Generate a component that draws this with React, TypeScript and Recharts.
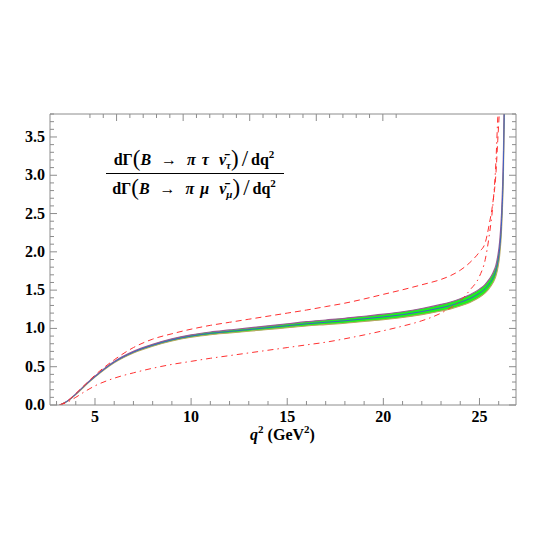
import React from 'react'
import { ComposedChart, Line, Area, XAxis, YAxis } from 'recharts'

// q^2 grid (GeV^2) and curve values
const q2 = [3.16, 3.5, 4, 4.5, 5, 6, 7, 8, 9, 10, 11, 12, 13, 14, 15, 16, 17, 18, 19, 20, 21, 22, 23, 23.5, 24, 24.5, 25, 25.3, 25.5, 25.7, 25.85, 25.95, 26.05, 26.15, 26.25, 26.32]
const central = [0, 0.04, 0.14, 0.26, 0.37, 0.56, 0.69, 0.78, 0.85, 0.9, 0.935, 0.96, 0.985, 1.01, 1.035, 1.06, 1.08, 1.1, 1.125, 1.15, 1.18, 1.22, 1.27, 1.3, 1.34, 1.39, 1.46, 1.52, 1.58, 1.66, 1.75, 1.86, 2.04, 2.4, 3.2, 4.4]
const bandHigh = [0, 0.042, 0.144, 0.265, 0.376, 0.568, 0.7, 0.792, 0.864, 0.916, 0.953, 0.98, 1.007, 1.034, 1.061, 1.088, 1.11, 1.132, 1.159, 1.186, 1.218, 1.26, 1.313, 1.345, 1.387, 1.44, 1.513, 1.576, 1.64, 1.725, 1.82, 1.94, 2.13, 2.51, 3.34, 4.58]
const bandLow = [0, 0.038, 0.136, 0.255, 0.364, 0.552, 0.68, 0.768, 0.836, 0.884, 0.917, 0.94, 0.963, 0.986, 1.009, 1.032, 1.05, 1.068, 1.091, 1.114, 1.142, 1.18, 1.227, 1.255, 1.293, 1.34, 1.407, 1.464, 1.52, 1.595, 1.68, 1.78, 1.95, 2.29, 3.06, 4.22]
const dashed = [0, 0.04, 0.15, 0.27, 0.39, 0.59, 0.75, 0.86, 0.93, 0.99, 1.04, 1.08, 1.12, 1.16, 1.2, 1.24, 1.285, 1.33, 1.385, 1.445, 1.505, 1.57, 1.64, 1.69, 1.76, 1.86, 2.0, 2.12, 2.35, 2.65, 3.0, 3.45, 3.9, null, null, null]
const dashDot = [0, 0.03, 0.1, 0.18, 0.25, 0.35, 0.42, 0.48, 0.53, 0.57, 0.61, 0.645, 0.68, 0.715, 0.75, 0.785, 0.82, 0.865, 0.915, 0.97, 1.03, 1.1, 1.2, 1.27, 1.36, 1.5, 1.68, 1.9, 2.2, 2.62, 3.15, 3.75, 4.3, null, null, null]

const xMajor = [5, 10, 15, 20, 25]
const xTicks = [3, 4, 5, 6, 7, 8, 9, 10, 11, 12, 13, 14, 15, 16, 17, 18, 19, 20, 21, 22, 23, 24, 25, 26]
const yTicks = [0, 0.1, 0.2, 0.3, 0.4, 0.5, 0.6, 0.7, 0.8, 0.9, 1, 1.1, 1.2, 1.3, 1.4, 1.5, 1.6, 1.7, 1.8, 1.9, 2, 2.1, 2.2, 2.3, 2.4, 2.5, 2.6, 2.7, 2.8, 2.9, 3, 3.1, 3.2, 3.3, 3.4, 3.5, 3.6, 3.7, 3.8]

const data = q2.map((q, i) => ({
  q,
  band: [bandLow[i], bandHigh[i]],
  low: bandLow[i],
  high: bandHigh[i],
  central: central[i],
  dashed: dashed[i],
  dashDot: dashDot[i],
}))

const FRAME = '#8c8c8c'
const FONT = '"Liberation Serif", "Times New Roman", serif'
const X_DOMAIN = [2.66, 26.9]
const Y_DOMAIN = [0, 3.8]

const yIsMajor = (v: number) => Math.abs(v * 2 - Math.round(v * 2)) < 1e-6

const BottomTick = (props: any) => {
  const { x, y, payload } = props
  const major = xMajor.includes(payload.value)
  return (
    <g>
      <line x1={x} x2={x} y1={y} y2={y - (major ? 7 : 4)} stroke={FRAME} />
      {major && (
        <text x={x} y={y + 17} textAnchor="middle" fontFamily={FONT} fontWeight="bold" fontSize={16} fill="#000">
          {payload.value}
        </text>
      )}
    </g>
  )
}

const TopTick = (props: any) => {
  const { x, y, payload } = props
  const major = xMajor.includes(payload.value)
  return <line x1={x} x2={x} y1={y} y2={y + (major ? 7 : 4)} stroke={FRAME} />
}

const LeftTick = (props: any) => {
  const { x, y, payload } = props
  const major = yIsMajor(payload.value)
  return (
    <g>
      <line x1={x} x2={x + (major ? 7 : 4)} y1={y} y2={y} stroke={FRAME} />
      {major && (
        <text x={x - 5} y={y + 5} textAnchor="end" fontFamily={FONT} fontWeight="bold" fontSize={16} fill="#000">
          {payload.value.toFixed(1)}
        </text>
      )}
    </g>
  )
}

const RightTick = (props: any) => {
  const { x, y, payload } = props
  const major = yIsMajor(payload.value)
  return <line x1={x} x2={x - (major ? 7 : 4)} y1={y} y2={y} stroke={FRAME} />
}

const paren: React.CSSProperties = { fontSize: 23, fontWeight: 'normal', verticalAlign: -1, lineHeight: 0 }
const sub: React.CSSProperties = { fontSize: 11, fontStyle: 'italic', verticalAlign: -4, lineHeight: 0 }
const sup: React.CSSProperties = { fontSize: 11, verticalAlign: 7, lineHeight: 0 }

const Ratio = ({ lep }: { lep: string }) => (
  <div style={{ whiteSpace: 'nowrap', textAlign: 'center', height: 20, lineHeight: '20px' }}>
    dΓ<span style={paren}>(</span>
    <i>B</i>
    <span style={{ margin: '0 10px' }}>→</span>
    <i>π</i>
    <i style={{ marginLeft: 6 }}>{lep}</i>
    <i style={{ marginLeft: 10 }}>ν̄</i>
    <span style={sub}>{lep}</span>
    <span style={paren}>)</span>
    <span style={{ ...paren, margin: '0 3px' }}>/</span>
    dq<span style={sup}>2</span>
  </div>
)

const App = () => {
  return (
    <div style={{ position: 'absolute', left: 0, top: 0, width: 545, height: 545, background: '#fff' }}>
      <ComposedChart width={545} height={545} data={data} margin={{ top: 113, right: 28, bottom: 139, left: 49 }}>
        <XAxis
          xAxisId="b"
          dataKey="q"
          type="number"
          domain={X_DOMAIN}
          allowDataOverflow
          ticks={xTicks}
          interval={0}
          height={1}
          tickSize={0}
          tickMargin={0}
          tickLine={false}
          tick={<BottomTick />}
          axisLine={{ stroke: FRAME }}
        />
        <XAxis
          xAxisId="t"
          orientation="top"
          type="number"
          domain={X_DOMAIN}
          allowDataOverflow
          ticks={xTicks}
          interval={0}
          height={1}
          tickSize={0}
          tickMargin={0}
          tickLine={false}
          tick={<TopTick />}
          axisLine={{ stroke: FRAME }}
        />
        <YAxis
          yAxisId="l"
          type="number"
          domain={Y_DOMAIN}
          allowDataOverflow
          ticks={yTicks}
          interval={0}
          width={1}
          tickSize={0}
          tickMargin={0}
          tickLine={false}
          tick={<LeftTick />}
          axisLine={{ stroke: FRAME }}
        />
        <YAxis
          yAxisId="r"
          orientation="right"
          type="number"
          domain={Y_DOMAIN}
          allowDataOverflow
          ticks={yTicks}
          interval={0}
          width={1}
          tickSize={0}
          tickMargin={0}
          tickLine={false}
          tick={<RightTick />}
          axisLine={{ stroke: FRAME }}
        />
        <Area xAxisId="b" yAxisId="l" type="monotone" dataKey="band" stroke="none" fill="#1ff01f" fillOpacity={1} isAnimationActive={false} />
        <Line xAxisId="b" yAxisId="l" type="monotone" dataKey="high" stroke="#9b5a95" strokeWidth={1.2} dot={false} isAnimationActive={false} />
        <Line xAxisId="b" yAxisId="l" type="monotone" dataKey="low" stroke="#b7a560" strokeWidth={1.1} dot={false} isAnimationActive={false} />
        <Line xAxisId="b" yAxisId="l" type="monotone" dataKey="central" stroke="#3d5fc4" strokeWidth={1} dot={false} isAnimationActive={false} />
        <Line xAxisId="b" yAxisId="l" type="monotone" dataKey="dashed" stroke="#ff3030" strokeWidth={1} strokeDasharray="6 4" dot={false} isAnimationActive={false} />
        <Line xAxisId="b" yAxisId="l" type="monotone" dataKey="dashDot" stroke="#ff3030" strokeWidth={1} strokeDasharray="6 4 1.5 4" dot={false} isAnimationActive={false} />
      </ComposedChart>

      <div style={{ position: 'absolute', left: 104, top: 150, width: 180, fontFamily: FONT, fontWeight: 'bold', fontSize: 16 }}>
        <Ratio lep="τ" />
        <div style={{ height: 1, background: '#000', margin: '3px 0 5px 2px' }} />
        <Ratio lep="μ" />
      </div>

      <div style={{ position: 'absolute', left: 0, width: 545, top: 426, paddingLeft: 20, boxSizing: 'border-box', textAlign: 'center', fontFamily: FONT, fontWeight: 'bold', fontSize: 16 }}>
        <i>q</i>
        <span style={sup}>2</span> (GeV<span style={sup}>2</span>)
      </div>
    </div>
  )
}

export default App
